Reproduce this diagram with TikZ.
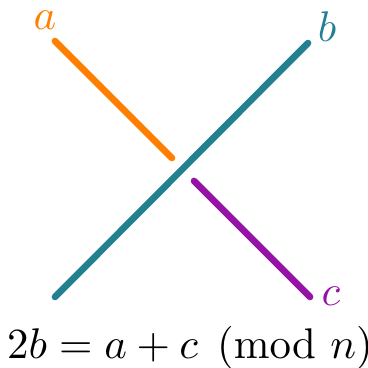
\documentclass[tikz,border=0pt]{standalone}
\usepackage{amsmath,amssymb}
\usetikzlibrary{positioning}
\definecolor{strandA}{RGB}{255,128,0}
\definecolor{strandB}{RGB}{34,128,145}
\definecolor{strandC}{RGB}{150,20,165}
\tikzset{
  strand/.style={line width=1.7pt,line cap=round},
  slbl/.style={inner sep=0pt,font=\fontsize{10.7}{13}\selectfont},
}
\begin{document}
\begin{tikzpicture}
  \useasboundingbox (0,0) rectangle (3.3,3.3);
  \coordinate (a0) at (0.493,2.932);
  \coordinate (a1) at (1.542,1.883);
  \coordinate (b0) at (0.493,0.637);
  \coordinate (b1) at (2.762,2.914);
  \coordinate (c0) at (1.740,1.677);
  \coordinate (c1) at (2.780,0.637);
  \draw[strand,strandA] (a0) -- (a1);
  \draw[strand,strandB] (b0) -- (b1);
  \draw[strand,strandC] (c0) -- (c1);
  \node[slbl,strandA] (la) at (0.404,3.121) {$a$};
  \node[slbl,strandB] (lb) at (2.932,3.058) {$b$};
  \node[slbl,strandC] (lc) at (2.968,0.646) {$c$};
  \node[slbl] (eq) at (1.704,0.179) {$2b = a + c \pmod{n}$};
\end{tikzpicture}
\end{document}
